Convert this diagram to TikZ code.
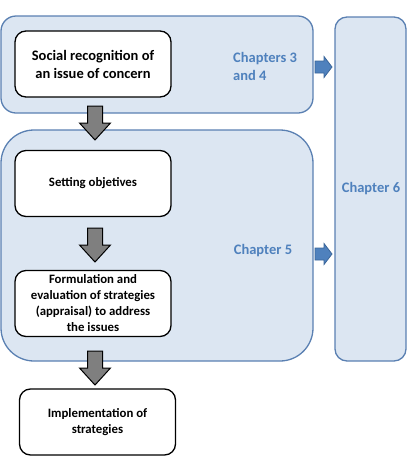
\documentclass[tikz,border=0pt]{standalone}
\usepackage{fontspec}
\setmainfont{Carlito}
\usetikzlibrary{calc}
\definecolor{panelfill}{HTML}{DCE6F2}
\definecolor{paneldraw}{HTML}{5A80B2}
\definecolor{chaptext}{HTML}{4F81BD}
\definecolor{garrowfill}{HTML}{7F7F7F}
\definecolor{barrowfill}{HTML}{4F81BD}
\definecolor{barrowdraw}{HTML}{3A659A}
\tikzset{
  panel/.style={draw=paneldraw, fill=panelfill, line width=1.3pt, inner sep=0pt},
  stepbox/.style={draw=black, fill=white, line width=1.3pt, rounded corners=11pt,
    minimum width=156pt, minimum height=66pt, inner sep=0pt, align=center,
    font=\bfseries\fontsize{12.8pt}{16pt}\selectfont},
  chaplabel/.style={text=chaptext, font=\bfseries\fontsize{14.5pt}{18pt}\selectfont, inner sep=0pt},
  garrow/.style={draw=black, fill=garrowfill, line width=1pt, line join=miter},
  barrow/.style={draw=barrowdraw, fill=barrowfill, line width=0.8pt},
  garrowdown/.pic={\draw[garrow] (-7.5,0) -- (7.5,0) -- (7.5,17) -- (15.5,17) -- (0,34) -- (-15.5,17) -- (-7.5,17) -- cycle;},
  barrowright/.pic={\draw[barrow] (0,-6) -- (9,-6) -- (9,-10.5) -- (17,0) -- (9,10.5) -- (9,6) -- (0,6) -- cycle;}
}
\begin{document}
\begin{tikzpicture}[x=1pt,y=-1pt]
\useasboundingbox (0,0) rectangle (409,456);
% panels
\draw[panel, rounded corners=15pt] (1,16) rectangle (313,113);
\draw[panel, rounded corners=33pt] (1,130) rectangle (313,361);
\draw[panel, rounded corners=12pt] (335,17) rectangle (406,361);
% chapter labels
\node[chaplabel, anchor=west, align=left] (ch34) at (233,66) {Chapters 3\\and 4};
\node[chaplabel] (ch5) at (263,251) {Chapter 5};
\node[chaplabel] (ch6) at (371,189) {Chapter 6};
% step boxes
\node[stepbox, font=\bfseries\fontsize{14.5pt}{18pt}\selectfont] (social) at (93,64) {Social recognition of\\an issue of concern};
\node[stepbox] (setting) at (93,183.5) {Setting objetives};
\node[stepbox] (formul) at (93,303.5) {Formulation and\\evaluation of strategies\\(appraisal) to address\\the issues};
\node[stepbox] (impl) at (97.5,422) {Implementation of\\strategies};
% grey block arrows
\pic at (95,106) {garrowdown};
\pic at (95,228) {garrowdown};
\pic at (95,351) {garrowdown};
% blue block arrows
\pic at (315,67) {barrowright};
\pic at (315,254) {barrowright};
\end{tikzpicture}
\end{document}
